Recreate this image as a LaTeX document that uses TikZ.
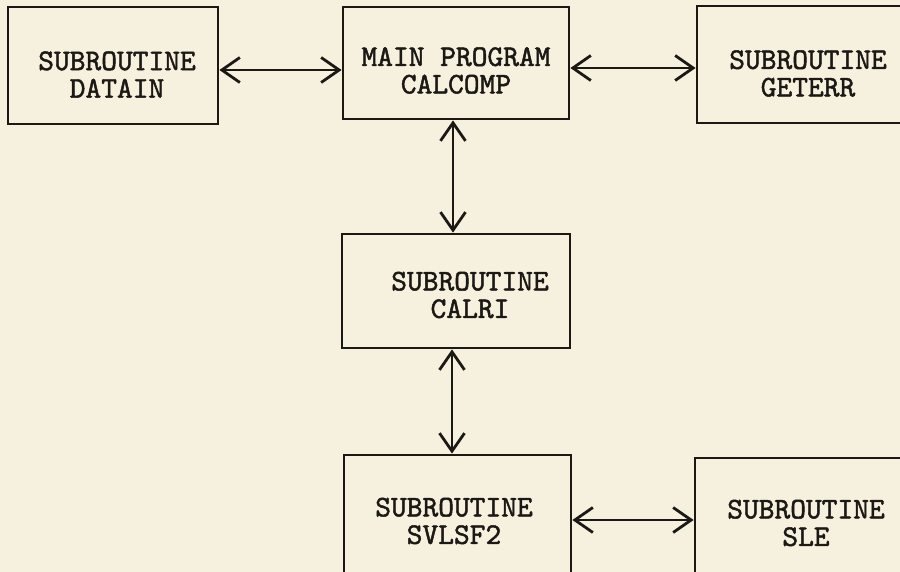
\documentclass[tikz,border=0pt]{standalone}
\usepackage{fontspec}
\newfontfamily\tyfont{lmmono10-regular.otf}[FakeBold=1.6]
\usetikzlibrary{arrows.meta}
\definecolor{paper}{RGB}{246,240,222}
\definecolor{ink}{RGB}{28,24,20}
\begin{document}
\begin{tikzpicture}[x=1pt,y=-1pt,
  box/.style={draw=ink, line width=2.8pt, rectangle, inner sep=0pt},
  lbl/.style={text=ink, align=center, inner sep=0pt, font=\tyfont\fontsize{30}{27.5}\selectfont},
  dbl/.style={draw=ink, line width=2.8pt, {Straight Barb[length=18pt,width=25pt,line width=2.8pt]}-{Straight Barb[length=18pt,width=25pt,line width=2.8pt]}}]
\fill[paper] (0,0) rectangle (900,572);
\useasboundingbox (0,0) rectangle (900,572);
\clip (0,0) rectangle (900,572);
% boxes
\node[box, minimum width=210pt, minimum height=117pt] (datain) at (113,65.5) {};
\node[box, minimum width=226pt, minimum height=112pt] (main) at (456,63) {};
\node[box, minimum width=223pt, minimum height=117pt] (geterr) at (808.5,64.5) {};
\node[box, minimum width=228pt, minimum height=114pt] (calri) at (456,291) {};
\node[box, minimum width=227pt, minimum height=120pt] (svlsf) at (457.5,515) {};
\node[box, minimum width=223pt, minimum height=120pt] (sle) at (806.5,518) {};
% labels
\node[lbl] (tdatain) at (117,74.5) {SUBROUTINE\\DATAIN};
\node[lbl] (tmain) at (456,70.5) {MAIN PROGRAM\\CALCOMP};
\node[lbl] (tgeterr) at (808,73.5) {SUBROUTINE\\GETERR};
\node[lbl] (tcalri) at (470,295) {SUBROUTINE\\CALRI};
\node[lbl] (tsvlsf) at (454,521) {SUBROUTINE\\SVLSF2};
\node[lbl] (tsle) at (806,523) {SUBROUTINE\\SLE};
% helper coordinates
\coordinate (ya) at (0,70);
\coordinate (yb) at (0,68);
\coordinate (xc) at (453,0);
\coordinate (xd) at (452,0);
\coordinate (ye) at (0,520);
% connectors
\draw[dbl] (datain.east |- ya) -- (main.west |- ya);
\draw[dbl] (main.east |- yb) -- (geterr.west |- yb);
\draw[dbl] (main.south -| xc) -- (calri.north -| xc);
\draw[dbl] (calri.south -| xd) -- (svlsf.north -| xd);
\draw[dbl] (svlsf.east |- ye) -- (sle.west |- ye);
\end{tikzpicture}
\end{document}
